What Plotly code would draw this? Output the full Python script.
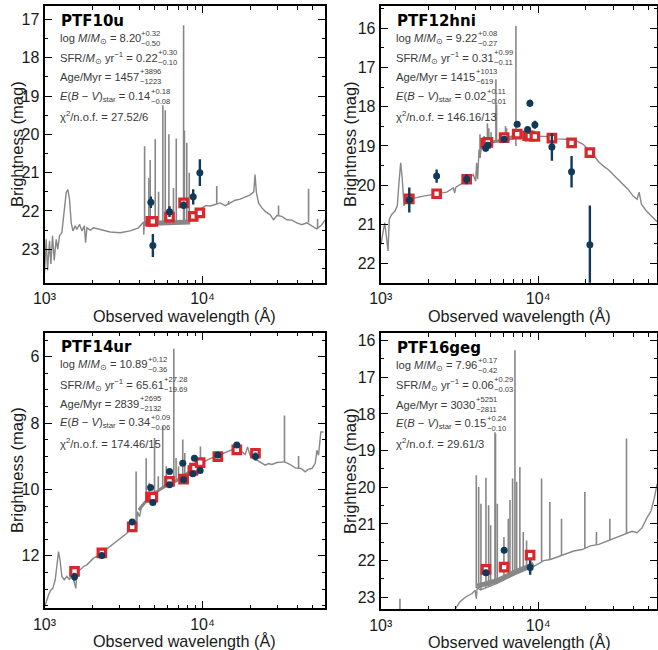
import re
import plotly.graph_objects as go

# ---------------------------------------------------------------- data
# Each galaxy: observed photometry (blue), synthetic model photometry (red),
# model spectrum continuum, a dense forest of lines, and emission spikes.

# PTF10u
p1_obs_wl = [4710, 4850, 6180, 7590, 8730, 9620]
p1_obs_mag = [21.77, 22.90, 22.02, 21.85, 21.63, 21.00]
p1_obs_err = [0.15, 0.30, 0.14, 0.10, 0.20, 0.35]
p1_mod_wl = [4710, 4850, 6180, 7590, 8730, 9620]
p1_mod_mag = [22.27, 22.27, 22.16, 21.79, 22.14, 22.05]
p1_cont_wl = [1000, 1025, 1045, 1076, 1097, 1124, 1152, 1186, 1214, 1244, 1288, 1333,
              1372, 1406, 1440, 1476, 1513, 1565, 1603, 1667, 1726, 1786, 1820, 1855,
              1948, 2043, 2143, 2305, 2605, 3013, 3483, 3933, 4130, 4236, 4250, 4280,
              8360, 8990, 9660, 10400, 11190, 12030, 12940, 13920, 14970, 16100, 17310,
              18620, 20030, 21100, 21500, 21900, 22610, 23750, 24930, 26810, 28140,
              29540, 31770, 34170, 36750, 39520, 42510, 45720, 49170, 52890, 56880, 59700]
p1_cont_mag = [23.62, 22.74, 23.55, 22.78, 23.38, 22.65, 23.29, 22.74, 23.00, 22.65, 22.56, 22.04,
               21.52, 21.44, 21.70, 22.31, 22.52, 22.39, 22.48, 22.35, 22.52, 22.39, 22.83, 22.44,
               22.50, 22.44, 22.46, 22.50, 22.55, 22.57, 22.52, 22.44, 22.35, 22.29, 22.62, 22.34,
               22.27, 22.10, 21.96, 21.86, 21.87, 21.83, 21.79, 21.86, 21.79, 21.72, 21.69,
               21.64, 21.58, 21.50, 21.05, 21.50, 21.79, 21.92, 22.01, 22.10, 22.23,
               22.12, 22.14, 22.23, 22.24, 22.31, 22.36, 22.31, 22.40, 22.47, 22.36, 22.23]
p1_band_wl = [4280, 6000, 8360]
p1_band_mag = [22.33, 22.32, 22.29]
p1_line_wl = [4300, 4575, 4665, 5020, 5270, 5610, 5810, 6125, 6550, 6820, 7590, 7680,
              7950, 8240, 12300, 14620, 30270, 46880, 53460]
p1_line_base = [22.32, 22.32, 22.32, 22.32, 22.32, 22.32, 22.32, 22.32, 22.32, 22.32, 22.32, 22.32,
                22.32, 22.30, 21.82, 21.84, 22.13, 22.30, 22.45]
p1_line_peak = [20.31, 21.14, 20.67, 20.13, 21.50, 19.24, 19.37, 20.00, 21.40, 20.11, 17.15, 19.90,
                20.22, 21.00, 21.35, 21.74, 21.86, 21.42, 22.21]

# PTF12hni
p2_obs_wl = [1519, 2265, 3515, 4640, 4790, 6080, 7360, 8570, 8860, 9530, 12220, 16290, 21290]
p2_obs_mag = [20.38, 19.77, 19.85, 19.06, 18.98, 18.83, 18.45, 18.58, 17.91, 18.46, 19.03, 19.66, 21.52]
p2_obs_err = [0.32, 0.17, 0.13, 0.08, 0.06, 0.04, 0.04, 0.04, 0.09, 0.10, 0.35, 0.40, 1.00]
p2_mod_wl = [1519, 2265, 3515, 4640, 4790, 6080, 7360, 8570, 8860, 9530, 12220, 16290, 21290]
p2_mod_mag = [20.35, 20.22, 19.85, 18.93, 18.91, 18.79, 18.70, 18.74, 18.75, 18.76, 18.80, 18.92, 19.17]
p2_cont_wl = [1004, 1029, 1060, 1080, 1113, 1134, 1174, 1233, 1275, 1306, 1339, 1371, 1406,
              1447, 1535, 1692, 1866, 2057, 2323, 2625, 2892, 2950, 3000, 3266, 3597, 3873,
              4009, 4066, 4128, 4209, 4272, 4377, 4530, 4710, 5070, 5455, 6000, 6610, 7290,
              8440, 9770, 11300, 13070, 15120, 17490, 19300, 20770, 22340, 24030, 25860,
              27820, 29930, 32200, 34640, 37260, 40090, 42480, 43740, 45270, 48700, 52390,
              56360, 58620]
p2_cont_mag = [21.51, 21.30, 20.96, 21.21, 21.68, 20.87, 20.75, 20.66, 20.53, 19.94, 19.43, 19.85, 20.53,
               20.36, 20.35, 20.32, 20.28, 20.25, 20.22, 20.18, 20.07, 20.20, 20.05, 19.96, 19.86, 19.73,
               19.90, 19.43, 19.85, 19.09, 19.30, 18.96, 19.00, 18.92, 18.90, 18.87, 18.82, 18.76, 18.73,
               18.73, 18.75, 18.76, 18.82, 18.83, 18.87, 18.96, 19.09, 19.22, 19.39, 19.51,
               19.60, 19.73, 19.86, 19.98, 20.11, 20.28, 20.36, 20.18, 20.49, 20.66, 20.79,
               20.92, 20.96]
p2_band_wl = [4400, 5500, 7000]
p2_band_mag = [18.93, 18.88, 18.80]
p2_line_wl = [4270, 4530, 4760, 4860, 5020, 5390, 5440, 6200, 6300, 7220]
p2_line_base = [19.30, 19.00, 18.95, 18.95, 18.92, 18.90, 18.90, 18.84, 18.84, 19.00]
p2_line_peak = [18.70, 18.75, 18.42, 18.55, 18.65, 17.30, 17.95, 18.50, 18.55, 15.94]

# PTF14ur
p3_obs_wl = [1549, 2307, 3590, 4690, 4850, 6180, 6180, 7500, 7590, 8690, 8890, 9660, 12500, 16480, 21620]
p3_obs_mag = [12.63, 11.99, 10.98, 9.94, 10.39, 9.46, 9.86, 9.21, 9.71, 9.53, 9.06, 9.43, 8.96, 8.66, 9.01]
p3_obs_err = [0.12, 0.08, 0.05, 0.04, 0.04, 0.04, 0.04, 0.04, 0.04, 0.04, 0.04, 0.04, 0.04, 0.04, 0.12]
p3_mod_wl = [1549, 2307, 3590, 4690, 4850, 6180, 7590, 8690, 8890, 9660, 12500, 16480, 21620]
p3_mod_mag = [12.47, 11.91, 11.13, 10.23, 10.23, 9.76, 9.69, 9.43, 9.36, 9.19, 9.01, 8.81, 8.91]
p3_cont_wl = [995, 1025, 1060, 1097, 1129, 1169, 1197, 1227, 1257, 1288, 1333, 1385, 1440,
              1490, 1578, 1603, 1683, 1767, 1855, 1947, 2043, 2144, 2305, 2483, 2670, 2871,
              3088, 3320, 3521, 3696, 3804, 3880, 3994, 4130, 4338, 4670, 5145, 5667, 6243,
              6880, 7580, 8350, 9200, 10140, 11170, 12310, 13570, 14950, 16090, 17300, 18620,
              19270, 20040, 21550, 23180, 24950, 26190, 27480, 29540, 31310, 33170, 35880,
              38610, 41920, 44640, 46860, 49200, 51640, 52950, 54210, 56060, 58320]
p3_cont_mag = [13.58, 13.38, 13.18, 13.03, 12.98, 12.72, 12.27, 11.87, 12.17, 12.62, 12.72, 12.62, 12.72,
               12.52, 12.98, 12.47, 12.42, 12.32, 12.27, 12.17, 12.07, 12.02, 11.89, 11.79, 11.67, 11.55,
               11.45, 11.32, 11.17, 11.02, 11.27, 10.67, 10.82, 10.47, 10.37, 10.22, 10.07, 9.95, 9.85,
               9.75, 9.62, 9.47, 9.32, 9.17, 9.07, 8.99, 8.92, 8.85, 8.77, 8.82, 8.95,
               8.72, 8.99, 9.09, 9.19, 9.27, 9.22, 9.25, 9.19, 9.17, 9.17, 9.25,
               9.35, 9.37, 9.47, 9.39, 9.37, 9.22, 8.82, 8.97, 8.27, 8.27]
p3_band_wl = [3950, 4670, 5667, 6880, 8350, 9200]
p3_band_mag = [10.62, 10.20, 9.93, 9.73, 9.46, 9.31]
p3_line_wl = [3800, 4400, 4600, 4970, 5250, 5600, 5900, 6580, 6800, 7050, 7500, 7720, 9700, 33000, 40530]
p3_line_base = [11.10, 10.35, 10.25, 10.10, 10.03, 9.95, 9.90, 9.80, 9.76, 9.72, 9.63, 9.60, 9.22, 9.17, 9.36]
p3_line_peak = [9.46, 9.06, 9.80, 8.45, 9.60, 8.10, 9.30, 5.76, 9.05, 9.30, 8.50, 8.90, 8.71, 7.77, 8.99]

# PTF16geg
p4_obs_wl = [4660, 6080, 8890]
p4_obs_mag = [22.33, 21.72, 22.19]
p4_obs_err = [0.08, 0.06, 0.20]
p4_mod_wl = [4660, 6080, 8890]
p4_mod_mag = [22.24, 22.18, 21.85]
p4_cont_wl = [2900, 3186, 3500, 3802, 3977, 4045, 4101, 4300, 5480, 7000, 9380, 9840, 10840,
              11960, 13190, 14890, 16810, 18990, 21460, 24250, 27380, 30920, 34920, 39440,
              42440, 45640, 49110, 52040, 54650, 56850, 58580]
p4_cont_mag = [23.40, 23.12, 22.98, 22.90, 22.81, 23.04, 22.74, 22.80, 22.62, 22.40, 22.16, 22.11, 22.00,
               21.97, 21.91, 21.83, 21.74, 21.70, 21.60, 21.56, 21.47, 21.38, 21.29, 21.20,
               21.24, 21.11, 20.83, 20.65, 20.29, 19.92, 19.87]
p4_band_wl = [4101, 5480, 7000, 9380]
p4_band_mag = [22.70, 22.55, 22.33, 22.10]
p4_line_wl = [1325, 4045, 4190, 4330, 4660, 4845, 4990, 5320, 5360, 5500, 6060, 6460, 6620, 6880,
              7120, 7300, 7650, 8040, 8440, 10510, 11860, 14070, 19780, 23440, 28510, 36380]
p4_line_base = [23.50, 22.75, 22.75, 22.78, 22.74, 22.70, 22.68, 22.64, 22.64, 22.62, 22.52, 22.47,
                22.45, 22.42, 22.39, 22.37, 22.33, 22.28, 22.23, 22.02, 21.97, 21.87, 21.68, 21.57,
                21.44, 21.26]
p4_line_peak = [23.04, 19.67, 19.99, 20.45, 19.74, 20.49, 21.04, 18.50, 18.55, 20.45, 21.36, 20.86,
                20.35, 19.76, 16.26, 19.85, 19.45, 21.22, 21.45, 19.76, 20.40, 20.86, 20.13, 21.22,
                20.86, 18.67]

names = ["PTF10u", "PTF12hni", "PTF14ur", "PTF16geg"]
fit_values = [
    ["8.20", "0.22", "1457", "0.14", "27.52/6"],
    ["9.22", "0.31", "1415", "0.02", "146.16/13"],
    ["10.89", "65.61", "2839", "0.34", "174.46/15"],
    ["7.96", "0.06", "3030", "0.15", "29.61/3"],
]
fit_upper = [
    ["+0.32", "+0.30", "+3896", "+0.18"],
    ["+0.08", "+0.99", "+1013", "+0.11"],
    ["+0.12", "+27.28", "+2695", "+0.09"],
    ["+0.17", "+0.29", "+5251", "+0.24"],
]
fit_lower = [
    ["−0.50", "−0.10", "−1223", "−0.08"],
    ["−0.27", "−0.11", "−619", "−0.01"],
    ["−0.36", "−19.69", "−2132", "−0.06"],
    ["−0.42", "−0.03", "−2811", "−0.10"],
]
x_tick_vals = [1000, 10000]
x_tick_text = ["10³", "10⁴"]

# ---------------------------------------------------------------- style
GREY = "#878787"
BLUE = "#113a58"
RED = "#d8282d"
FONT = "Liberation Sans"
TXT_SIZE = 11.2
ERR_SIZE = 7.6
W, H = 658, 650

# panel frames in pixels: (left, right, top, bottom)
frames = [(44.5, 325.0, 6.0, 283.0), (380.7, 657.4, 6.0, 282.7),
          (44.5, 325.0, 332.7, 608.3), (380.7, 657.4, 333.3, 609.3)]
x_ranges = [[3.0, 4.775], [3.0, 4.757], [3.0, 4.775], [3.0, 4.757]]
y_ranges = [[23.88, 16.65], [22.49, 15.43], [13.58, 5.28], [23.33, 15.80]]
y_dticks = [1, 1, 2, 1]
ytitle_shift = [-28, -30, -28, -30]

# advance widths (per 1000 em) of the sans face, used to butt the +/- errors
# against the end of each line of text
ADV = {" ": 278, "(": 333, ")": 333, "+": 584, "−": 584, "=": 584, "/": 278, ".": 278,
       "A": 667, "B": 667, "E": 667, "F": 611, "M": 833, "R": 722, "S": 667, "V": 667,
       "a": 556, "e": 556, "f": 278, "g": 556, "l": 222, "n": 556, "o": 556, "r": 333,
       "s": 500, "t": 278, "y": 500, "χ": 520, "⊙": 838}


def text_width(markup, size):
    """Approximate rendered width of a line with <sub>/<sup> parts at 70 %."""
    total = 0.0
    pos = 0
    for m in re.finditer(r"<(su[bp])>(.*?)</\1>", markup):
        plain = re.sub(r"<[^>]+>", "", markup[pos:m.start()])
        total += sum(ADV.get(c, 556) for c in plain)
        total += 0.7 * sum(ADV.get(c, 556) for c in m.group(2))
        pos = m.end()
    plain = re.sub(r"<[^>]+>", "", markup[pos:])
    total += sum(ADV.get(c, 556) for c in plain)
    return total * size / 1000.0


panels = [
    (p1_obs_wl, p1_obs_mag, p1_obs_err, p1_mod_wl, p1_mod_mag, p1_cont_wl, p1_cont_mag,
     p1_band_wl, p1_band_mag, p1_line_wl, p1_line_base, p1_line_peak),
    (p2_obs_wl, p2_obs_mag, p2_obs_err, p2_mod_wl, p2_mod_mag, p2_cont_wl, p2_cont_mag,
     p2_band_wl, p2_band_mag, p2_line_wl, p2_line_base, p2_line_peak),
    (p3_obs_wl, p3_obs_mag, p3_obs_err, p3_mod_wl, p3_mod_mag, p3_cont_wl, p3_cont_mag,
     p3_band_wl, p3_band_mag, p3_line_wl, p3_line_base, p3_line_peak),
    (p4_obs_wl, p4_obs_mag, p4_obs_err, p4_mod_wl, p4_mod_mag, p4_cont_wl, p4_cont_mag,
     p4_band_wl, p4_band_mag, p4_line_wl, p4_line_base, p4_line_peak),
]
band_widths = [5, 3, 3, 5]

minor_x = [2000, 3000, 4000, 5000, 6000, 7000, 8000, 9000, 20000, 30000, 40000, 50000]

fig = go.Figure()
annotations = []
layout_axes = {}

for i, (ow, om, oe, mw, mm, cw, cm, bw, bm, lw, lb, lp) in enumerate(panels):
    k = "" if i == 0 else str(i + 1)
    xa, ya = "x" + k, "y" + k
    left, right, top, bottom = frames[i]

    # continuum
    fig.add_trace(go.Scatter(x=cw, y=cm, mode="lines", xaxis=xa, yaxis=ya,
                             line=dict(color=GREY, width=1.4), showlegend=False,
                             hoverinfo="skip"))
    # crowded line forest
    fig.add_trace(go.Scatter(x=bw, y=bm, mode="lines", xaxis=xa, yaxis=ya,
                             line=dict(color=GREY, width=band_widths[i]), showlegend=False,
                             hoverinfo="skip"))
    # emission lines
    sx, sy = [], []
    for wl, b, p in zip(lw, lb, lp):
        sx += [wl, wl, None]
        sy += [b, p, None]
    fig.add_trace(go.Scatter(x=sx, y=sy, mode="lines", xaxis=xa, yaxis=ya,
                             line=dict(color=GREY, width=1.6), showlegend=False,
                             hoverinfo="skip", connectgaps=False))
    # model photometry
    fig.add_trace(go.Scatter(x=mw, y=mm, mode="markers", xaxis=xa, yaxis=ya,
                             marker=dict(symbol="square", size=7.5, color="white",
                                         line=dict(color=RED, width=3.2)),
                             showlegend=False))
    # observed photometry
    fig.add_trace(go.Scatter(x=ow, y=om, mode="markers", xaxis=xa, yaxis=ya,
                             marker=dict(symbol="circle", size=7, color=BLUE),
                             error_y=dict(type="data", array=oe, thickness=2.4, width=0,
                                          color=BLUE),
                             showlegend=False))

    common = dict(showline=True, linewidth=2, linecolor="black", mirror="ticks",
                  ticks="inside", ticklen=7, tickwidth=1.4, tickcolor="black",
                  showgrid=False, zeroline=False, automargin=False,
                  tickfont=dict(family=FONT, size=16, color="#1a1a1a"))
    layout_axes["xaxis" + k] = dict(
        common, domain=[left / W, right / W], anchor=ya, type="log", range=x_ranges[i],
        tickmode="array", tickvals=x_tick_vals, ticktext=x_tick_text,
        minor=dict(tickmode="array", tickvals=minor_x, ticks="inside", ticklen=3.5,
                   tickwidth=1.2, tickcolor="black", showgrid=False))
    layout_axes["yaxis" + k] = dict(
        common, domain=[1 - bottom / H, 1 - top / H], anchor=xa, range=y_ranges[i],
        tickmode="linear", tick0=0, dtick=y_dticks[i],
        minor=dict(tick0=0, dtick=0.5, ticks="inside", ticklen=3.5, tickwidth=1.2,
                   tickcolor="black", showgrid=False))

    xd, yd = xa + " domain", ya + " domain"
    # axis titles
    annotations.append(dict(x=0.5, y=0, xref=xd, yref=yd, xanchor="center", yanchor="middle",
                            yshift=-33, showarrow=False, text="Observed wavelength (Å)",
                            borderpad=0,
                            font=dict(family=FONT, size=16.2, color="#1a1a1a")))
    annotations.append(dict(x=0, y=0.5, xref=xd, yref=yd, xanchor="center", yanchor="middle",
                            xshift=ytitle_shift[i], textangle=-90, showarrow=False,
                            text="Brightness (mag)",
                            font=dict(family=FONT, size=16.5, color="#1a1a1a")))
    # fit summary
    annotations.append(dict(x=0, y=1, xref=xd, yref=yd, xanchor="left", yanchor="middle",
                            xshift=14, yshift=-14.5, showarrow=False,
                            text="<b>" + names[i] + "</b>",
                            font=dict(family="DejaVu Sans", size=15, color="black")))
    v = fit_values[i]
    lines = [
        "log <i>M</i>/<i>M</i><sub>⊙</sub> = " + v[0],
        "SFR/<i>M</i><sub>⊙</sub> yr<sup>−1</sup> = " + v[1],
        "Age/Myr = " + v[2],
        "<i>E</i>(<i>B</i> − <i>V</i>)<sub>star</sub> = " + v[3],
        "χ<sup>2</sup>/n.o.f. = " + v[4],
    ]
    for j, txt in enumerate(lines):
        yc = 32.5 + 19.4 * j
        annotations.append(dict(x=0, y=1, xref=xd, yref=yd, xanchor="left", yanchor="middle",
                                xshift=14, yshift=-yc, showarrow=False, text=txt,
                                borderpad=0,
                                font=dict(family=FONT, size=TXT_SIZE, color="#3a3a3a")))
        if j < 4:
            ex = 14 + text_width(txt, TXT_SIZE) + 1.0
            annotations.append(dict(x=0, y=1, xref=xd, yref=yd, xanchor="left",
                                    yanchor="middle", align="left", xshift=ex,
                                    yshift=-(yc - 0.5), showarrow=False, borderpad=0,
                                    text=fit_upper[i][j] + "<br>" + fit_lower[i][j],
                                    font=dict(family=FONT, size=ERR_SIZE, color="#3a3a3a")))

fig.update_layout(template="none", width=W, height=H, margin=dict(l=0, r=0, t=0, b=0),
                  paper_bgcolor="white", plot_bgcolor="white",
                  annotations=annotations, **layout_axes)

fig.write_html("out.html")
